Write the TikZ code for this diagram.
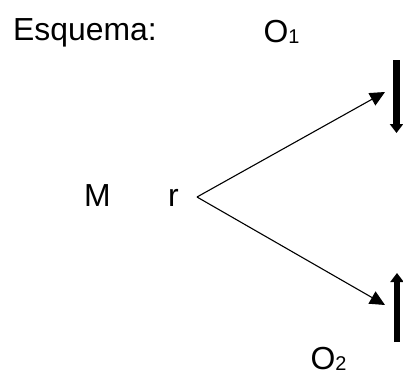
\documentclass[tikz,border=0pt]{standalone}
\usepackage{fontspec}
\setsansfont{Liberation Sans}
\usepackage{tikz}
\usetikzlibrary{arrows.meta}

\newcommand{\sub}[1]{{\fontsize{20}{20}\selectfont\raisebox{-1pt}{#1}}}

\begin{document}
\begin{tikzpicture}[x=1bp, y=-1bp, font=\sffamily\fontsize{32}{36}\selectfont,
    lbl/.style={inner sep=0pt, anchor=base west},
    ray/.style={line width=1.1bp, -{Triangle[length=15bp, width=14bp]}},
    bar/.style={line width=6.5bp, -{Triangle[length=9bp, width=13bp]}}]
  \useasboundingbox (0,0) rectangle (403,376);

  % labels
  \node[lbl] (title) at (13,40) {Esquema:};
  \node[lbl] (o1) at (263.5,42) {O\sub{1}};
  \node[lbl] (m) at (84,206) {M};
  \node[lbl] (r) at (168,206) {r};
  \node[lbl] (o2) at (310.5,369) {O\sub{2}};

  % rays from r
  \coordinate (v) at (197,197);
  \coordinate (t1) at (385,92);
  \coordinate (t2) at (385,305);
  \draw[ray] (v) -- (t1);
  \draw[ray] (v) -- (t2);

  % observations
  \coordinate (b1s) at (396.5,60);
  \coordinate (b1e) at (396.5,133);
  \coordinate (b2s) at (397,342);
  \coordinate (b2e) at (397,273);
  \draw[bar] (b1s) -- (b1e);
  \draw[bar] (b2s) -- (b2e);
\end{tikzpicture}
\end{document}
